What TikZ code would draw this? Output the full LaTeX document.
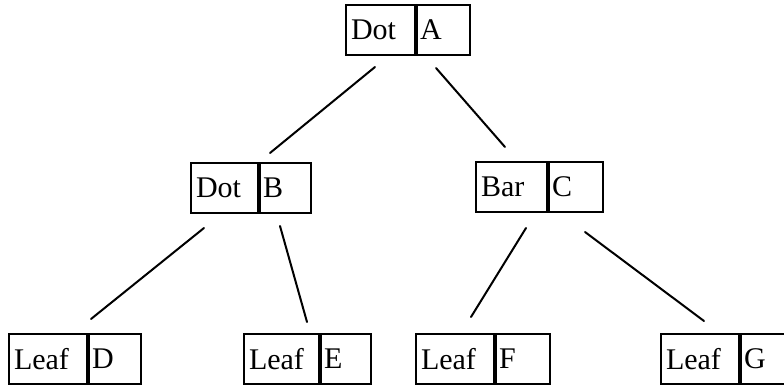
\documentclass[tikz,border=0pt]{standalone}
\usepackage{fontspec}
\setmainfont{Liberation Serif}
\usetikzlibrary{calc}

\tikzset{
  cell/.style={draw, line width=2pt, anchor=north west, minimum height=50pt,
    inner ysep=0pt, align=left, font=\fontsize{30}{34}\selectfont},
  tagcell/.style={cell, inner xsep=5pt},
  keycell/.style={cell, inner xsep=3pt},
  divider/.style={line width=2.8pt},
  branch/.style={line width=2pt, line cap=round}
}

% #1 name, #2 north-west corner, #3 left width, #4 right width, #5 tag, #6 key
\newcommand{\treecell}[6]{%
  \node[tagcell, text width=#3pt-10pt, minimum width=#3pt] (#1-l) at #2 {#5};
  \node[keycell, text width=#4pt-6pt, minimum width=#4pt] (#1-r) at (#1-l.north east) {#6};
  \draw[divider] (#1-l.north east) -- (#1-l.south east);
}

\begin{document}
\begin{tikzpicture}[x=1pt, y=-1pt]
  \useasboundingbox (0,0) rectangle (784,385);

  % the tree cells
  \treecell{A}{(345,4)}{69}{53}{Dot}{A}
  \treecell{B}{(190,162)}{67}{51}{Dot}{B}
  \treecell{C}{(475,161)}{71}{54}{Bar}{C}
  \treecell{D}{(8,333)}{78}{52}{Leaf}{D}
  \treecell{E}{(243,333)}{75}{50}{Leaf}{E}
  \treecell{F}{(415,333)}{78}{54}{Leaf}{F}
  \treecell{G}{(660,333)}{78}{45}{Leaf}{G}

  % branch end points, just clear of the cells
  \coordinate (AtoB) at (375,67);  \coordinate (BfromA) at (270,153);
  \coordinate (AtoC) at (436,68);  \coordinate (CfromA) at (505,147);
  \coordinate (BtoD) at (204,228); \coordinate (DfromB) at (91,319);
  \coordinate (BtoE) at (280,226); \coordinate (EfromB) at (307,322);
  \coordinate (CtoF) at (526,228); \coordinate (FfromC) at (471,317);
  \coordinate (CtoG) at (585,232); \coordinate (GfromC) at (704,321);

  % branches
  \draw[branch] (AtoB) -- (BfromA);
  \draw[branch] (AtoC) -- (CfromA);
  \draw[branch] (BtoD) -- (DfromB);
  \draw[branch] (BtoE) -- (EfromB);
  \draw[branch] (CtoF) -- (FfromC);
  \draw[branch] (CtoG) -- (GfromC);
\end{tikzpicture}
\end{document}
